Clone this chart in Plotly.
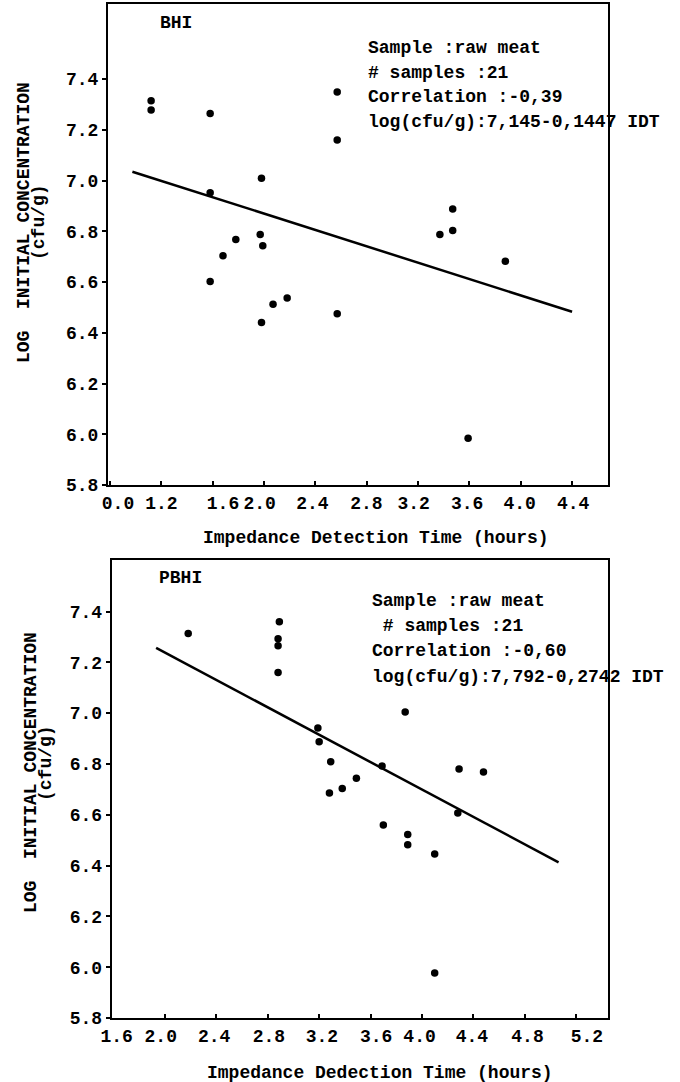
import plotly.graph_objects as go

W, H = 680, 1082

# ---------- data: top panel (BHI) ----------
bhi_x = [1.12, 1.12, 1.58, 2.57, 2.57, 1.98, 1.58, 3.47, 3.47, 3.37, 1.97,
         1.78, 1.99, 1.68, 3.88, 1.58, 2.18, 2.07, 2.57, 1.98, 3.59]
bhi_y = [7.315, 7.278, 7.264, 7.349, 7.16, 7.009, 6.952, 6.888, 6.803, 6.787, 6.787,
         6.768, 6.743, 6.704, 6.682, 6.602, 6.537, 6.512, 6.475, 6.441, 5.984]
bhi_fit_x = [0.974, 4.40]
bhi_fit_y = [7.035, 6.483]

# ---------- data: bottom panel (PBHI) ----------
pbhi_x = [2.18, 2.89, 2.88, 2.88, 2.88, 3.87, 3.19, 3.20, 3.29, 3.69, 4.29,
          4.48, 3.49, 3.38, 3.28, 4.28, 3.70, 3.89, 3.89, 4.10, 4.10]
pbhi_y = [7.314, 7.36, 7.293, 7.265, 7.16, 7.005, 6.942, 6.888, 6.809, 6.792, 6.78,
          6.768, 6.744, 6.703, 6.686, 6.607, 6.56, 6.522, 6.482, 6.446, 5.977]
pbhi_fit_x = [1.93, 5.065]
pbhi_fit_y = [7.257, 6.413]

# ---------- tick labels ----------
y_ticks = [5.8, 6.0, 6.2, 6.4, 6.6, 6.8, 7.0, 7.2, 7.4]
y_ticktext = ["5.8", "6.0", "6.2", "6.4", "6.6", "6.8", "7.0", "7.2", "7.4"]

top_xlabel_pos = [0.862, 1.2, 1.68, 1.966, 2.377, 2.797, 3.166, 3.582, 3.992, 4.408]
top_xlabel_txt = ["0.0", "1.2", "1.6", "2.0", "2.4", "2.8", "3.2", "3.6", "4.0", "4.4"]
top_xtick_marks = [0.8, 1.2, 1.6, 2.0, 2.4, 2.8, 3.2, 3.6, 4.0, 4.4]

bot_xlabel_pos = [1.623, 1.966, 2.382, 2.808, 3.221, 3.644, 3.982, 4.39, 4.823, 5.286]
bot_xlabel_txt = ["1.6", "2.0", "2.4", "2.8", "3.2", "3.6", "4.0", "4.4", "4.8", "5.2"]
bot_xtick_marks = [2.0, 2.4, 2.8, 3.2, 3.6, 4.0, 4.4, 4.8, 5.2]

top_info = ["Sample :raw meat", "# samples :21", "Correlation :-0,39",
            "log(cfu/g):7,145-0,1447 IDT"]
bot_info = ["Sample :raw meat", " # samples :21", "Correlation :-0,60",
            "log(cfu/g):7,792-0,2742 IDT"]

FONT = dict(family="Liberation Mono", size=18, color="black", weight="bold")


def px(x):
    return x / W


def py(y):
    return 1 - y / H


fig = go.Figure()

fig.add_trace(go.Scatter(x=bhi_x, y=bhi_y, mode="markers",
                         marker=dict(color="black", size=7.5), xaxis="x", yaxis="y",
                         showlegend=False))
fig.add_trace(go.Scatter(x=bhi_fit_x, y=bhi_fit_y, mode="lines",
                         line=dict(color="black", width=2.5), xaxis="x", yaxis="y",
                         showlegend=False))
fig.add_trace(go.Scatter(x=pbhi_x, y=pbhi_y, mode="markers",
                         marker=dict(color="black", size=7.5), xaxis="x2", yaxis="y2",
                         showlegend=False))
fig.add_trace(go.Scatter(x=pbhi_fit_x, y=pbhi_fit_y, mode="lines",
                         line=dict(color="black", width=2.5), xaxis="x2", yaxis="y2",
                         showlegend=False))

axis_common = dict(showline=True, linecolor="black", linewidth=2, mirror=True,
                   showgrid=False, zeroline=False, tickfont=FONT, automargin=False)


def xaxis(domain, rng, labpos, labtxt, marks, anchor):
    return dict(domain=domain, range=rng, tickmode="array", tickvals=labpos,
                ticktext=labtxt, ticks="", anchor=anchor,
                minor=dict(tickvals=marks, ticks="inside", ticklen=4, tickwidth=2,
                           tickcolor="black", showgrid=False),
                **axis_common)


def yaxis(domain, rng, anchor):
    return dict(domain=domain, range=rng, tickmode="array", tickvals=y_ticks,
                ticktext=y_ticktext, ticks="outside", ticklen=4, tickwidth=2,
                tickcolor="black", anchor=anchor, **axis_common)


fig.update_layout(
    template="none",
    width=W, height=H,
    margin=dict(l=0, r=0, t=0, b=0, pad=0, autoexpand=False),
    showlegend=False,
    paper_bgcolor="white", plot_bgcolor="white",
    xaxis=xaxis([px(108), px(608)], [0.784, 4.68], top_xlabel_pos, top_xlabel_txt,
                top_xtick_marks, "y"),
    yaxis=yaxis([py(485), py(4)], [5.8, 7.696], "x"),
    xaxis2=xaxis([px(111.7), px(608)], [1.584, 5.45], bot_xlabel_pos, bot_xlabel_txt,
                 bot_xtick_marks, "y2"),
    yaxis2=yaxis([py(1018), py(560)], [5.8, 7.603], "x2"),
)

ann = []


def add_text(text, x, y, xanchor="center", angle=0):
    ann.append(dict(text=text, x=px(x), y=py(y), xref="paper", yref="paper",
                    xanchor=xanchor, yanchor="middle", showarrow=False,
                    font=FONT, textangle=angle))


# panel labels
add_text("BHI", 176, 23)
add_text("PBHI", 180, 578)

# info blocks
for i, t in enumerate(top_info):
    add_text(t, 366, 48 + i * 24.6, xanchor="left")
for i, t in enumerate(bot_info):
    add_text(t, 370, 601 + i * 25.2, xanchor="left")

# x axis titles
add_text("Impedance Detection Time (hours)", 376, 538)
add_text("Impedance Dedection Time (hours)", 380, 1073)

# y axis titles
add_text("LOG  INITIAL CONCENTRATION", 24, 223, angle=-90)
add_text("(cfu/g)", 39, 222, angle=-90)
add_text("LOG  INITIAL CONCENTRATION", 31, 773, angle=-90)
add_text("(cfu/g)", 46, 763, angle=-90)

fig.update_layout(annotations=ann)

fig.write_html(
    "out.html",
    config={"displayModeBar": False},
    post_script="document.body.style.margin='0';document.body.style.overflow='hidden';",
)
